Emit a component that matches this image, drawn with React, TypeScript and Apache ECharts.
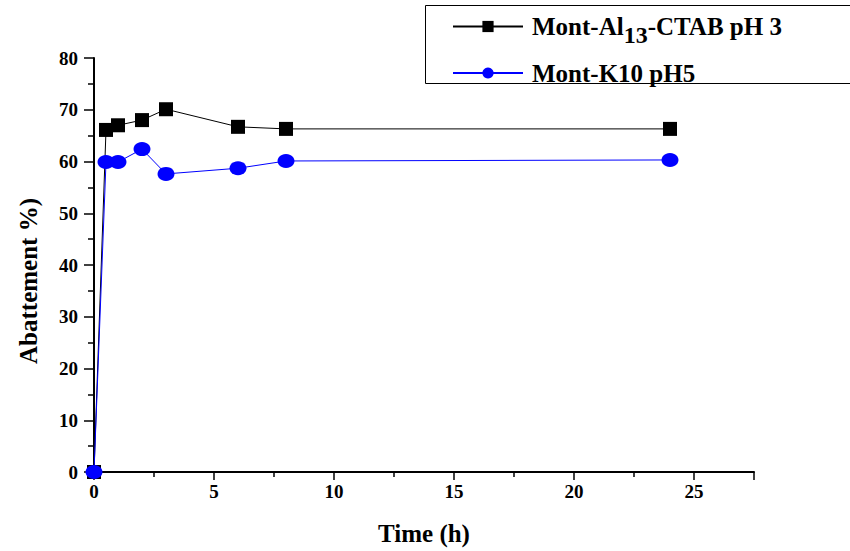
import React, { useEffect, useRef } from "react";
import * as echarts from "echarts";

const timeH = [0, 0.5, 1, 2, 3, 6, 8, 24];
const al13Values = [0, 66.1, 67.0, 68.0, 70.1, 66.7, 66.3, 66.3];
const k10Values = [0, 59.9, 59.9, 62.4, 57.6, 58.7, 60.1, 60.3];
const seriesNames = ["Mont-Al13-CTAB pH 3", "Mont-K10 pH5"];

const FONT = "'Liberation Serif', 'DejaVu Serif', serif";

export default function App() {
  const ref = useRef<HTMLDivElement>(null);
  useEffect(() => {
    if (!ref.current) return;
    const chart = echarts.init(ref.current, undefined, { renderer: "svg" });
    chart.setOption({
      animation: false,
      backgroundColor: "#ffffff",
      grid: { left: 94, top: 58, right: 96, bottom: 79, containLabel: false },
      graphic: [
        {
          type: "rect",
          shape: { x: 425.5, y: 5.5, width: 500, height: 78 },
          style: { fill: "none", stroke: "#000", lineWidth: 1 },
          z: 0,
        },
      ],
      legend: {
        orient: "vertical",
        left: 452,
        top: 14,
        padding: 0,
        itemWidth: 70,
        itemHeight: 14,
        itemGap: 14,
        data: seriesNames,
        formatter: (name: string) =>
          name === seriesNames[0]
            ? "{a|Mont-Al}{s|13}{a|-CTAB pH 3}"
            : "{a|Mont-K10 pH5}",
        textStyle: {
          fontFamily: FONT,
          fontWeight: "bold",
          fontSize: 25,
          color: "#000",
          padding: [0, 0, 0, 4],
          rich: {
            a: { fontFamily: FONT, fontWeight: "bold", fontSize: 25, color: "#000" },
            s: {
              fontFamily: FONT,
              fontWeight: "bold",
              fontSize: 24,
              color: "#000",
              padding: [16, 0, 0, 0],
            },
          },
        },
      },
      xAxis: {
        type: "value",
        min: 0,
        max: 27.5,
        interval: 5,
        name: "Time (h)",
        nameLocation: "middle",
        nameGap: 49,
        nameTextStyle: { fontFamily: FONT, fontWeight: "bold", fontSize: 25, color: "#000" },
        axisLine: { show: true, onZero: false, lineStyle: { color: "#000", width: 2 } },
        axisTick: { show: true, length: 8, lineStyle: { color: "#000", width: 1.5 } },
        minorTick: { show: true, splitNumber: 2, length: 5, lineStyle: { color: "#000", width: 1.5 } },
        axisLabel: { fontFamily: FONT, fontWeight: "bold", fontSize: 19, color: "#000", margin: 10,
          showMaxLabel: false },
        splitLine: { show: false },
      },
      yAxis: {
        type: "value",
        min: 0,
        max: 80,
        interval: 10,
        name: "Abattement %)",
        nameLocation: "middle",
        nameGap: 53,
        nameTextStyle: { fontFamily: FONT, fontWeight: "bold", fontSize: 25, color: "#000",
          padding: [0, 32, 0, 0] },
        axisLine: { show: true, lineStyle: { color: "#000", width: 2 } },
        axisTick: { show: true, length: 10, lineStyle: { color: "#000", width: 1.5 } },
        minorTick: { show: true, splitNumber: 2, length: 6, lineStyle: { color: "#000", width: 1.5 } },
        axisLabel: { fontFamily: FONT, fontWeight: "bold", fontSize: 19, color: "#000", margin: 16 },
        splitLine: { show: false },
      },
      series: [
        {
          name: seriesNames[0],
          type: "line",
          data: timeH.map((t, i) => [t, al13Values[i]]),
          symbol: "rect",
          symbolSize: 14,
          showAllSymbol: true,
          lineStyle: { color: "#000", width: 1 },
          itemStyle: { color: "#000" },
          z: 2,
        },
        {
          name: seriesNames[1],
          type: "line",
          data: timeH.map((t, i) => [t, k10Values[i]]),
          symbol: "circle",
          symbolSize: [17, 14],
          showAllSymbol: true,
          lineStyle: { color: "#0000ff", width: 1 },
          itemStyle: { color: "#0000ff" },
          z: 3,
        },
      ],
    });
    return () => chart.dispose();
  }, []);
  return (
    <div
      ref={ref}
      style={{ position: "fixed", left: 0, top: 0, width: 850, height: 551 }}
    />
  );
}
